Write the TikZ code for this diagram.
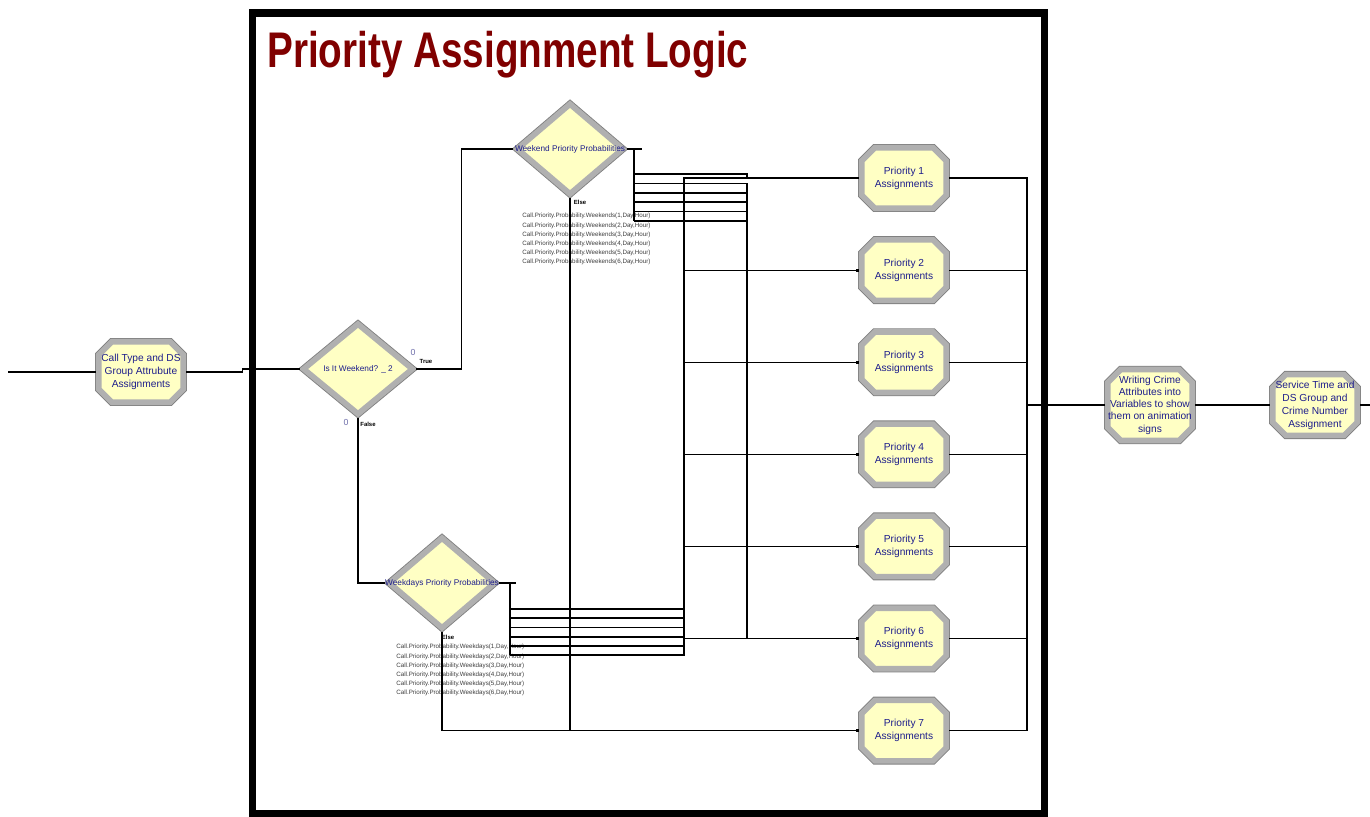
\documentclass[tikz,border=0pt]{standalone}
\usepackage{fontspec}
\setmainfont{Liberation Sans}
\usepackage{graphicx}
\usetikzlibrary{positioning,shapes.geometric,shapes.misc,arrows.meta}
\definecolor{modfill}{RGB}{255,255,196}
\definecolor{modgray}{RGB}{176,176,176}
\definecolor{modedge}{RGB}{128,128,128}
\definecolor{modtext}{RGB}{30,30,140}
\definecolor{condtext}{RGB}{60,60,60}
\definecolor{zerotext}{RGB}{110,110,170}
\definecolor{titlered}{RGB}{128,0,0}

\begin{document}
\begin{tikzpicture}
    [ x = 0.02cm, y = -0.02cm
    , module/.style =
      { chamfered rectangle, chamfered rectangle xsep=0.14cm
      , draw=modgray, line width=3.2pt, fill=modfill
      , preaction={draw=modedge, line width=4.2pt}
      , minimum width=1.69cm, minimum height=1.21cm
      , inner xsep=-4pt, inner ysep=0pt
      , align=center, text=modtext, font=\fontsize{5.8}{7.4}\selectfont }
    , decide/.style =
      { diamond, draw=modgray, line width=3.2pt, fill=modfill
      , preaction={draw=modedge, line width=4.2pt}
      , inner sep=0pt, minimum width=2.15cm, minimum height=1.84cm }
    , dtext/.style =
      { text=modtext, font=\fontsize{4.7}{5}\selectfont, inner sep=0pt }
    , wire/.style =
      { line width=.6pt, -{Square[length=1.6pt,width=1.6pt]} }
    , stub/.style =
      { line width=.6pt }
    , cond/.style =
      { align=left, anchor=north west, inner sep=0pt, text=condtext
      , font=\fontsize{3.55}{5.2}\selectfont }
    , flag/.style =
      { font=\fontsize{3.4}{4}\selectfont\bfseries, inner sep=0pt }
    , zero/.style =
      { text=zerotext, font=\fontsize{5}{5}\selectfont, inner sep=0pt }
    , title/.style =
      { text=titlered, font=\fontsize{28.5}{30}\selectfont\bfseries
      , inner sep=0pt, anchor=base west }
    ]
    \useasboundingbox (0,0) rectangle (1370,817);

    \node [title] (head) at (267,68) {\scalebox{.772}[1]{Priority Assignment Logic}};

    \coordinate (in) at (8,372);
    \node [module] (call) at (141,372) {Call Type and DS\\Group Attrubute\\Assignments};
    \node [decide, minimum width=2.22cm, label={[dtext]center:Is It Weekend? \_ 2}] (isw) at (358,369) {};
    \node [decide, label={[dtext]center:Weekend Priority Probabilities}] (wkend) at (570,149) {};
    \node [decide, label={[dtext]center:Weekdays Priority Probabilities}] (wkday) at (442,583) {};

    \node [module] (p1) at (904,178) {Priority 1\\Assignments};
    \node [module] (p2) [below=.52cm of p1] {Priority 2\\Assignments};
    \node [module] (p3) [below=.52cm of p2] {Priority 3\\Assignments};
    \node [module] (p4) [below=.52cm of p3] {Priority 4\\Assignments};
    \node [module] (p5) [below=.52cm of p4] {Priority 5\\Assignments};
    \node [module] (p6) [below=.52cm of p5] {Priority 6\\Assignments};
    \node [module] (p7) [below=.52cm of p6] {Priority 7\\Assignments};

    \node [module, font=\fontsize{5.8}{7}\selectfont] (write) at (1150,405)
      {Writing Crime\\Attributes into\\Variables to show\\them on animation\\signs};
    \node [module] (serv) at (1315,405) {Service Time and\\DS Group and\\Crime Number\\Assignment};
    \coordinate (out) at (1370,405);

    % branch labels
    \node [zero] (isw-t0) at (413,352) {0};
    \node [flag] (isw-t) at (426,361) {True};
    \node [zero] (isw-f0) at (346,422) {0};
    \node [flag] (isw-f) at (368,424) {False};
    \node [flag] (wkend-e) at (580,202) {Else};
    \node [flag] (wkday-e) at (448,637) {Else};
    \node [cond] (wkend-c) at (522,213)
      {Call.Priority.Probability.Weekends(1,Day,Hour)\\
       Call.Priority.Probability.Weekends(2,Day,Hour)\\
       Call.Priority.Probability.Weekends(3,Day,Hour)\\
       Call.Priority.Probability.Weekends(4,Day,Hour)\\
       Call.Priority.Probability.Weekends(5,Day,Hour)\\
       Call.Priority.Probability.Weekends(6,Day,Hour)};
    \node [cond] (wkday-c) at (396,644)
      {Call.Priority.Probability.Weekdays(1,Day,Hour)\\
       Call.Priority.Probability.Weekdays(2,Day,Hour)\\
       Call.Priority.Probability.Weekdays(3,Day,Hour)\\
       Call.Priority.Probability.Weekdays(4,Day,Hour)\\
       Call.Priority.Probability.Weekdays(5,Day,Hour)\\
       Call.Priority.Probability.Weekdays(6,Day,Hour)};

    % exit points of the two decide modules
    \coordinate (we1) at (634,174);
    \coordinate (we2) at (634,183.5);
    \coordinate (we3) at (634,193);
    \coordinate (we4) at (634,202);
    \coordinate (we5) at (634,211.5);
    \coordinate (we6) at (634,221);
    \coordinate (wd1) at (510,609);
    \coordinate (wd2) at (510,618);
    \coordinate (wd3) at (510,627.5);
    \coordinate (wd4) at (510,637);
    \coordinate (wd5) at (510,646);
    \coordinate (wd6) at (510,655);
    \coordinate (wkbus) at (747,0);
    \coordinate (wdbus) at (684,0);
    \coordinate (bus) at (1027,0);

    \draw [wire] (in) -- (call.west);
    \draw [wire] (call.east) -- +(56,0) |- (isw.west);
    \draw [wire] (isw.east) -- +(45,0) |- (wkend.west);
    \draw [wire] (isw.south) |- (wkday.west);

    \draw [stub] (wkend.east) -- +(15,0);
    \draw [stub] (wkend.east -| we1) -- (we6);
    \draw [stub] (wkday.east) -- +(17,0);
    \draw [stub] (wkday.east -| wd1) -- (wd6);

    \draw [wire] (we1) -| (wkbus |- p1.west) -- (p1.west);
    \draw [wire] (we2) -| (wkbus |- p2.west) -- (p2.west);
    \draw [wire] (we3) -| (wkbus |- p3.west) -- (p3.west);
    \draw [wire] (we4) -| (wkbus |- p4.west) -- (p4.west);
    \draw [wire] (we5) -| (wkbus |- p5.west) -- (p5.west);
    \draw [wire] (we6) -| (wkbus |- p6.west) -- (p6.west);
    \draw [wire] (wd1) -| (wdbus |- p1.west) -- (p1.west);
    \draw [wire] (wd2) -| (wdbus |- p2.west) -- (p2.west);
    \draw [wire] (wd3) -| (wdbus |- p3.west) -- (p3.west);
    \draw [wire] (wd4) -| (wdbus |- p4.west) -- (p4.west);
    \draw [wire] (wd5) -| (wdbus |- p5.west) -- (p5.west);
    \draw [wire] (wd6) -| (wdbus |- p6.west) -- (p6.west);
    \draw [wire] (wkend.south) |- (p7.west);
    \draw [wire] (wkday.south) |- (p7.west);

    \draw [wire] (p1.east) -| (bus |- write.west) -- (write.west);
    \draw [wire] (p2.east) -| (bus |- write.west) -- (write.west);
    \draw [wire] (p3.east) -| (bus |- write.west) -- (write.west);
    \draw [wire] (p4.east) -| (bus |- write.west) -- (write.west);
    \draw [wire] (p5.east) -| (bus |- write.west) -- (write.west);
    \draw [wire] (p6.east) -| (bus |- write.west) -- (write.west);
    \draw [wire] (p7.east) -| (bus |- write.west) -- (write.west);
    \draw [wire] (write.east) -- (serv.west);
    \draw [wire] (serv.east) -- (out);

    % frame round the submodel
    \draw [line width=4pt] (252.5,13) rectangle (1044.5,813.5);
\end{tikzpicture}
\end{document}
